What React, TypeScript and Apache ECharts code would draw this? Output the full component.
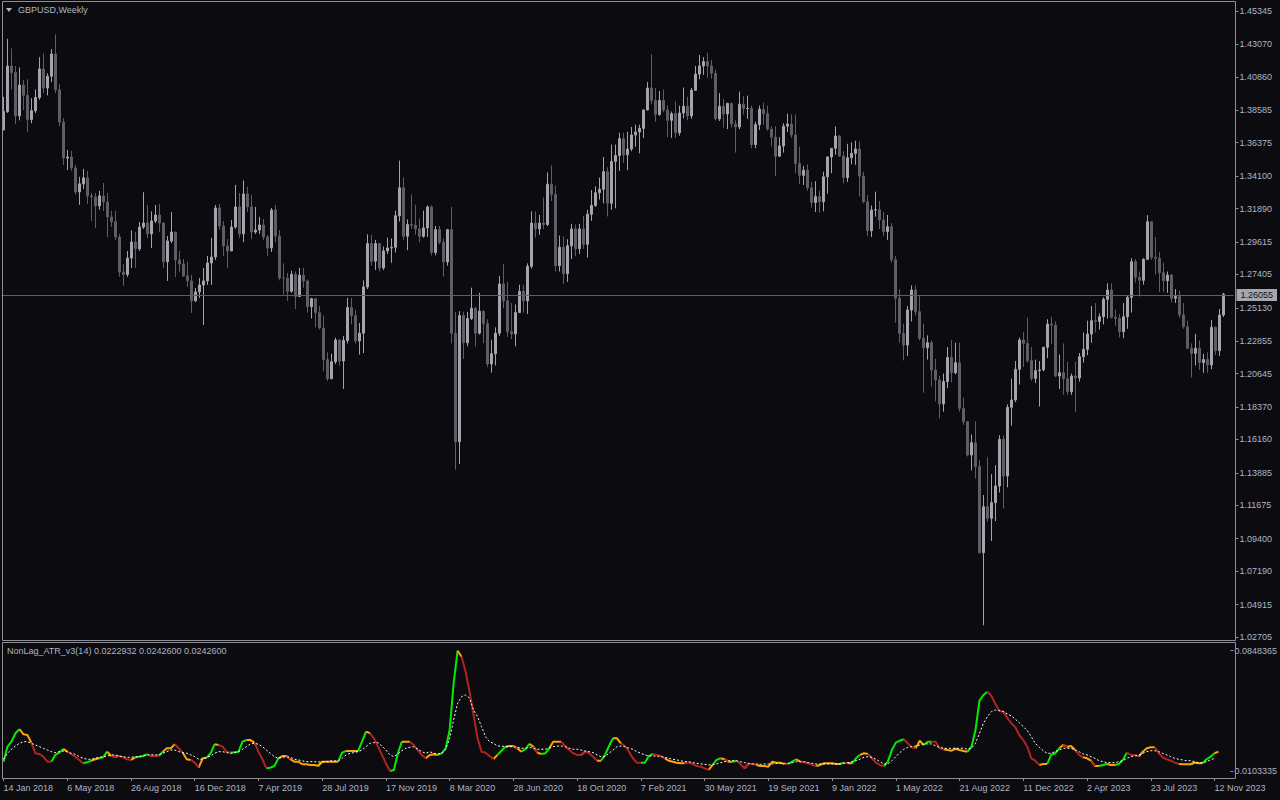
import React, { useEffect, useRef } from "react";
import * as echarts from "echarts";

const BG = "#0b0b10";
const TXT = "#aeb6c4";
const FRAME = "#8e8e94";
const FONT = "Liberation Sans";

const FIRST_OPEN = 1.3725;
const LAST_PRICE = 1.26055;

const closes = [
  1.3850,1.4160,1.4115,1.3820,1.4030,1.3960,1.3795,1.3855,1.3945,1.4140,
  1.4010,1.4090,1.4242,1.3998,1.3778,1.3533,1.3540,1.3465,1.3302,1.3357,
  1.3398,1.3275,1.3268,1.3207,1.3275,1.3234,1.3132,1.3100,1.2995,1.2757,
  1.2740,1.2852,1.2961,1.2915,1.3063,1.3090,1.3016,1.3104,1.3145,1.3090,
  1.2827,1.2968,1.3029,1.2838,1.2811,1.2730,1.2696,1.2560,1.2621,1.2668,
  1.2696,1.2818,1.2859,1.3193,1.3070,1.2934,1.2900,1.3063,1.3200,1.3016,
  1.3288,1.3200,1.3029,1.3043,1.3077,1.2995,1.2920,1.3179,1.3002,1.2716,
  1.2715,1.2625,1.2740,1.2590,1.2735,1.2695,1.2520,1.2575,1.2480,1.2375,
  1.2160,1.2030,1.2145,1.2293,1.2150,1.2290,1.2515,1.2460,1.2287,1.2340,
  1.2655,1.2950,1.2830,1.2950,1.2784,1.2900,1.2920,1.2925,1.3140,1.3330,
  1.3000,1.3080,1.3075,1.3050,1.3000,1.3057,1.3200,1.2890,1.3045,1.2960,
  1.2825,1.3045,1.2340,1.1600,1.2460,1.2275,1.2440,1.2510,1.2340,1.2490,
  1.2405,1.2130,1.2200,1.2340,1.2675,1.2560,1.2350,1.2335,1.2480,1.2625,
  1.2560,1.2795,1.3090,1.3050,1.3090,1.3080,1.3355,1.3285,1.2800,1.2925,
  1.2745,1.2935,1.3050,1.2915,1.3050,1.2945,1.3150,1.3210,1.3297,1.3320,
  1.3440,1.3225,1.3510,1.3550,1.3665,1.3555,1.3595,1.3690,1.3710,1.3735,
  1.3860,1.4010,1.3925,1.3830,1.3925,1.3860,1.3790,1.3835,1.3705,1.3840,
  1.3885,1.3820,1.3995,1.4105,1.4160,1.4190,1.4160,1.4110,1.3800,1.3885,
  1.3833,1.3905,1.3765,1.3745,1.3900,1.3870,1.3870,1.3625,1.3760,1.3865,
  1.3835,1.3730,1.3675,1.3545,1.3615,1.3750,1.3765,1.3690,1.3495,1.3415,
  1.3450,1.3330,1.3230,1.3270,1.3235,1.3405,1.3540,1.3599,1.3683,1.3547,
  1.3400,1.3535,1.3565,1.3595,1.3410,1.3235,1.3038,1.3179,1.3180,1.3111,
  1.3031,1.3065,1.2840,1.2578,1.2339,1.2259,1.2498,1.2634,1.2486,1.2305,
  1.2240,1.2275,1.2089,1.2021,1.1858,1.2010,1.2175,1.2071,1.2139,1.1828,
  1.1737,1.1510,1.1594,1.1431,1.0845,1.1158,1.1079,1.1185,1.1299,1.1617,
  1.1367,1.1835,1.1885,1.2094,1.2294,1.2270,1.2153,1.2032,1.2085,1.2090,
  1.2244,1.2402,1.2395,1.2048,1.2070,1.2030,1.1942,1.2048,1.2035,1.2180,
  1.2230,1.2334,1.2425,1.2420,1.2452,1.2571,1.2634,1.2448,1.2440,1.2350,
  1.2452,1.2584,1.2827,1.2721,1.2700,1.2843,1.3099,1.2857,1.2850,1.2752,
  1.2697,1.2736,1.2578,1.2590,1.2465,1.2384,1.2237,1.2203,1.2237,1.2139,
  1.2160,1.2123,1.2380,1.2221,1.2464,1.26055,
];

const highs = [
  1.3950,1.4345,1.4280,1.4160,1.4150,1.4065,1.4070,1.3940,1.4000,1.4220,
  1.4245,1.4110,1.4275,1.4376,1.4037,1.3805,1.3588,1.3582,1.3486,1.3405,
  1.3459,1.3446,1.3295,1.3295,1.3309,1.3363,1.3295,1.3173,1.3173,1.3016,
  1.2811,1.2900,1.3040,1.3030,1.3097,1.3300,1.3213,1.3170,1.3213,1.3220,
  1.3097,1.3002,1.3166,1.3030,1.2900,1.2845,1.2825,1.2736,1.2648,1.2716,
  1.2784,1.2866,1.2990,1.3213,1.3220,1.3104,1.2981,1.3111,1.3350,1.3295,
  1.3380,1.3336,1.3282,1.3200,1.3132,1.3118,1.3009,1.3193,1.3213,1.3043,
  1.2815,1.2750,1.2765,1.2760,1.2785,1.2785,1.2705,1.2580,1.2580,1.2525,
  1.2460,1.2210,1.2200,1.2310,1.2300,1.2320,1.2580,1.2580,1.2500,1.2410,
  1.2700,1.3013,1.3010,1.2975,1.2955,1.2930,1.2990,1.2985,1.3175,1.3515,
  1.3400,1.3115,1.3285,1.3215,1.3120,1.3175,1.3210,1.3210,1.3070,1.3070,
  1.2985,1.3050,1.3200,1.2485,1.2490,1.2485,1.2485,1.2650,1.2520,1.2615,
  1.2495,1.2435,1.2295,1.2380,1.2730,1.2810,1.2690,1.2545,1.2535,1.2670,
  1.2670,1.2815,1.3170,1.3170,1.3145,1.3265,1.3435,1.3482,1.3345,1.3005,
  1.3000,1.2980,1.3085,1.3080,1.3085,1.3140,1.3180,1.3315,1.3340,1.3400,
  1.3540,1.3470,1.3625,1.3625,1.3705,1.3705,1.3712,1.3745,1.3760,1.3760,
  1.3865,1.4050,1.4240,1.4010,1.3990,1.4000,1.3890,1.3850,1.3920,1.3890,
  1.4013,1.3950,1.4010,1.4160,1.4235,1.4220,1.4250,1.4200,1.4135,1.3975,
  1.3935,1.3910,1.3910,1.3790,1.3985,1.3955,1.3958,1.3890,1.3780,1.3890,
  1.3910,1.3890,1.3750,1.3750,1.3675,1.3770,1.3835,1.3830,1.3830,1.3610,
  1.3480,1.3490,1.3370,1.3375,1.3310,1.3440,1.3545,1.3600,1.3748,1.3690,
  1.3580,1.3630,1.3640,1.3651,1.3645,1.3440,1.3280,1.3210,1.3304,1.3240,
  1.3165,1.3145,1.3090,1.2865,1.2640,1.2405,1.2525,1.2665,1.2665,1.2600,
  1.2405,1.2325,1.2290,1.2165,1.2050,1.2065,1.2245,1.2295,1.2275,1.2275,
  1.1900,1.1735,1.1650,1.1740,1.1475,1.1238,1.1495,1.1380,1.1440,1.1645,
  1.1645,1.1855,1.2030,1.2150,1.2310,1.2350,1.2445,1.2245,1.2160,1.2150,
  1.2245,1.2435,1.2452,1.2420,1.2195,1.2270,1.2145,1.2065,1.2145,1.2205,
  1.2345,1.2425,1.2525,1.2545,1.2475,1.2585,1.2680,1.2680,1.2500,1.2470,
  1.2545,1.2600,1.2850,1.2845,1.2760,1.2850,1.3144,1.3100,1.2995,1.2895,
  1.2820,1.2760,1.2745,1.2640,1.2630,1.2545,1.2425,1.2270,1.2335,1.2290,
  1.2200,1.2210,1.2430,1.2385,1.2505,1.2615,
];

const lows = [
  1.3720,1.3840,1.4000,1.3765,1.3790,1.3860,1.3712,1.3770,1.3840,1.3930,
  1.3975,1.3960,1.4050,1.3975,1.3750,1.3486,1.3451,1.3445,1.3284,1.3214,
  1.3323,1.3221,1.3104,1.3057,1.3180,1.3172,1.2995,1.3064,1.2974,1.2725,
  1.2662,1.2723,1.2784,1.2784,1.2900,1.3049,1.2988,1.2920,1.3090,1.3030,
  1.2784,1.2696,1.2954,1.2723,1.2757,1.2723,1.2655,1.2478,1.2553,1.2580,
  1.2396,1.2669,1.2669,1.2838,1.3043,1.2866,1.2784,1.2900,1.3050,1.2988,
  1.2960,1.3166,1.2981,1.3016,1.3016,1.2975,1.2866,1.2893,1.2960,1.2700,
  1.2605,1.2560,1.2615,1.2505,1.2585,1.2650,1.2480,1.2440,1.2380,1.2365,
  1.2080,1.2015,1.2025,1.2130,1.2120,1.1960,1.2270,1.2400,1.2270,1.2195,
  1.2205,1.2640,1.2800,1.2770,1.2760,1.2770,1.2880,1.2820,1.2890,1.3100,
  1.2975,1.2905,1.3050,1.3010,1.2960,1.2990,1.2995,1.2870,1.2870,1.2945,
  1.2725,1.2800,1.2270,1.1410,1.1450,1.2165,1.2250,1.2430,1.2250,1.2330,
  1.2272,1.2110,1.2071,1.2120,1.2320,1.2510,1.2316,1.2300,1.2250,1.2480,
  1.2480,1.2470,1.2780,1.2990,1.3010,1.3050,1.3070,1.3240,1.2760,1.2760,
  1.2675,1.2690,1.2845,1.2865,1.2880,1.2915,1.2855,1.3105,1.3200,1.3250,
  1.3225,1.3135,1.3180,1.3190,1.3445,1.3500,1.3451,1.3580,1.3610,1.3565,
  1.3670,1.3860,1.3900,1.3780,1.3820,1.3845,1.3675,1.3670,1.3670,1.3685,
  1.3804,1.3790,1.3800,1.3990,1.4070,1.4100,1.4080,1.4075,1.3790,1.3785,
  1.3740,1.3730,1.3740,1.3570,1.3730,1.3830,1.3800,1.3600,1.3600,1.3725,
  1.3760,1.3720,1.3610,1.3410,1.3545,1.3570,1.3710,1.3670,1.3430,1.3355,
  1.3350,1.3310,1.3195,1.3165,1.3160,1.3170,1.3290,1.3430,1.3555,1.3540,
  1.3360,1.3370,1.3490,1.3486,1.3270,1.3225,1.3000,1.2995,1.3134,1.3050,
  1.3000,1.2975,1.2820,1.2410,1.2275,1.2155,1.2185,1.2420,1.2460,1.2290,
  1.1934,1.2160,1.1975,1.1875,1.1760,1.1805,1.1965,1.2005,1.2060,1.1805,
  1.1715,1.1500,1.1405,1.1350,1.0840,1.0350,1.1055,1.0925,1.1060,1.1255,
  1.1145,1.1290,1.1710,1.1870,1.1990,1.2110,1.2140,1.2015,1.2000,1.1840,
  1.2080,1.2170,1.2265,1.2040,1.1960,1.1920,1.1920,1.1920,1.1802,1.2010,
  1.2140,1.2190,1.2275,1.2345,1.2365,1.2400,1.2440,1.2440,1.2390,1.2310,
  1.2305,1.2370,1.2480,1.2685,1.2590,1.2670,1.2840,1.2840,1.2740,1.2620,
  1.2620,1.2615,1.2550,1.2545,1.2445,1.2370,1.2230,1.2037,1.2120,1.2090,
  1.2070,1.2070,1.2095,1.2190,1.2185,1.2450,
];

const atr = [
  0.0161,0.0254,0.0285,0.0337,0.0362,0.0331,0.0326,0.0279,0.0213,0.0209,
  0.0192,0.0161,0.0161,0.0203,0.0217,0.0240,0.0223,0.0207,0.0192,0.0172,
  0.0151,0.0157,0.0167,0.0176,0.0182,0.0188,0.0223,0.0198,0.0192,0.0196,
  0.0188,0.0176,0.0172,0.0186,0.0192,0.0196,0.0207,0.0196,0.0196,0.0198,
  0.0223,0.0244,0.0244,0.0269,0.0244,0.0217,0.0176,0.0172,0.0155,0.0124,
  0.0182,0.0186,0.0213,0.0269,0.0264,0.0254,0.0223,0.0217,0.0219,0.0223,
  0.0285,0.0295,0.0295,0.0279,0.0223,0.0176,0.0120,0.0124,0.0134,0.0182,
  0.0196,0.0196,0.0176,0.0161,0.0161,0.0145,0.0145,0.0141,0.0141,0.0136,
  0.0161,0.0161,0.0161,0.0161,0.0161,0.0217,0.0227,0.0227,0.0227,0.0227,
  0.0285,0.0347,0.0337,0.0306,0.0254,0.0203,0.0151,0.0103,0.0110,0.0213,
  0.0285,0.0285,0.0285,0.0264,0.0233,0.0203,0.0182,0.0203,0.0207,0.0203,
  0.0213,0.0244,0.0357,0.0647,0.0848,0.0811,0.0718,0.0594,0.0450,0.0306,
  0.0223,0.0217,0.0196,0.0178,0.0203,0.0229,0.0254,0.0258,0.0258,0.0244,
  0.0223,0.0238,0.0271,0.0254,0.0217,0.0209,0.0213,0.0244,0.0285,0.0285,
  0.0285,0.0258,0.0233,0.0213,0.0203,0.0203,0.0223,0.0213,0.0192,0.0167,
  0.0167,0.0203,0.0258,0.0306,0.0306,0.0275,0.0258,0.0223,0.0182,0.0155,
  0.0155,0.0155,0.0196,0.0209,0.0203,0.0196,0.0182,0.0167,0.0161,0.0155,
  0.0151,0.0151,0.0155,0.0147,0.0134,0.0130,0.0120,0.0110,0.0141,0.0172,
  0.0182,0.0176,0.0161,0.0161,0.0167,0.0147,0.0120,0.0147,0.0147,0.0141,
  0.0134,0.0134,0.0130,0.0161,0.0155,0.0155,0.0147,0.0147,0.0161,0.0176,
  0.0161,0.0157,0.0151,0.0141,0.0134,0.0141,0.0151,0.0151,0.0151,0.0147,
  0.0147,0.0155,0.0151,0.0151,0.0182,0.0203,0.0213,0.0209,0.0182,0.0155,
  0.0141,0.0134,0.0161,0.0233,0.0279,0.0291,0.0300,0.0275,0.0250,0.0244,
  0.0291,0.0264,0.0285,0.0285,0.0285,0.0244,0.0238,0.0233,0.0229,0.0241,
  0.0233,0.0227,0.0223,0.0254,0.0357,0.0539,0.0574,0.0594,0.0568,0.0518,
  0.0475,0.0471,0.0430,0.0399,0.0374,0.0326,0.0295,0.0254,0.0182,0.0167,
  0.0141,0.0147,0.0147,0.0203,0.0213,0.0244,0.0264,0.0254,0.0258,0.0233,
  0.0203,0.0188,0.0182,0.0167,0.0134,0.0134,0.0141,0.0147,0.0141,0.0141,
  0.0147,0.0172,0.0217,0.0203,0.0203,0.0192,0.0223,0.0244,0.0250,0.0250,
  0.0213,0.0188,0.0176,0.0167,0.0155,0.0147,0.0145,0.0145,0.0145,0.0155,
  0.0151,0.0151,0.0176,0.0192,0.0213,0.0223,
];

// colour of the segment arriving at each point: g = rising, o = neutral, r = falling
const atrColors =
  "gggggooorr" + "rrrgggorrr" + "rggooggoro" + "rrrogggrrr" + "gooorroorr" +
  "ooggorrrgg" + "ggoorrrggg" + "oorooooooo" + "gooooggooo" + "ggorrrrrgg" +
  "goorrrrooo" + "gggggorrrr" + "rrrroggoor" + "oggoroggoo" + "orrrrrorrr" +
  "ogggoorrrr" + "rgggrrrooo" + "oorrrrrrog" + "gorogrrorr" + "ooooooorgg" +
  "orrrrooooo" + "ogroggoorr" + "rrgggggrrr" + "ooggrrrooo" + "ooogggggrr" +
  "rrrrrrrrrr" + "roogggoroo" + "rrooroggoo" + "gggrrroooo" + "rrrrrrooog" +
  "oogggo";

const signal = [
  0.0176,0.0213,0.0238,0.0258,0.0275,0.0285,0.0285,0.0275,0.0264,0.0254,
  0.0244,0.0233,0.0223,0.0217,0.0223,0.0227,0.0223,0.0213,0.0207,0.0192,
  0.0182,0.0176,0.0176,0.0182,0.0188,0.0192,0.0196,0.0203,0.0203,0.0196,
  0.0192,0.0188,0.0188,0.0192,0.0192,0.0196,0.0203,0.0203,0.0203,0.0203,
  0.0213,0.0223,0.0233,0.0233,0.0223,0.0217,0.0213,0.0203,0.0192,0.0176,
  0.0176,0.0188,0.0196,0.0213,0.0223,0.0223,0.0217,0.0213,0.0217,0.0223,
  0.0238,0.0254,0.0271,0.0275,0.0269,0.0254,0.0233,0.0213,0.0192,0.0182,
  0.0188,0.0192,0.0188,0.0176,0.0172,0.0166,0.0161,0.0161,0.0161,0.0159,
  0.0161,0.0161,0.0166,0.0166,0.0166,0.0182,0.0203,0.0213,0.0217,0.0223,
  0.0233,0.0254,0.0275,0.0279,0.0279,0.0258,0.0233,0.0203,0.0192,0.0209,
  0.0229,0.0244,0.0250,0.0254,0.0238,0.0223,0.0213,0.0223,0.0213,0.0209,
  0.0213,0.0238,0.0306,0.0419,0.0523,0.0564,0.0574,0.0554,0.0481,0.0440,
  0.0378,0.0316,0.0285,0.0275,0.0258,0.0258,0.0254,0.0254,0.0254,0.0250,
  0.0244,0.0244,0.0250,0.0244,0.0238,0.0238,0.0238,0.0244,0.0254,0.0258,
  0.0258,0.0254,0.0244,0.0238,0.0238,0.0233,0.0227,0.0223,0.0217,0.0203,
  0.0192,0.0192,0.0213,0.0233,0.0254,0.0258,0.0254,0.0244,0.0238,0.0223,
  0.0213,0.0203,0.0196,0.0196,0.0196,0.0192,0.0188,0.0182,0.0176,0.0172,
  0.0167,0.0161,0.0161,0.0155,0.0151,0.0147,0.0145,0.0141,0.0141,0.0147,
  0.0155,0.0161,0.0167,0.0167,0.0167,0.0161,0.0155,0.0151,0.0147,0.0147,
  0.0145,0.0147,0.0147,0.0147,0.0151,0.0151,0.0151,0.0151,0.0155,0.0161,
  0.0161,0.0161,0.0155,0.0151,0.0147,0.0147,0.0147,0.0147,0.0147,0.0147,
  0.0147,0.0151,0.0155,0.0161,0.0167,0.0176,0.0188,0.0192,0.0188,0.0176,
  0.0161,0.0147,0.0147,0.0167,0.0192,0.0217,0.0238,0.0250,0.0254,0.0258,
  0.0264,0.0271,0.0271,0.0271,0.0258,0.0250,0.0244,0.0244,0.0244,0.0244,
  0.0244,0.0244,0.0238,0.0244,0.0275,0.0337,0.0399,0.0440,0.0471,0.0481,
  0.0477,0.0471,0.0456,0.0444,0.0424,0.0402,0.0378,0.0353,0.0316,0.0275,
  0.0250,0.0229,0.0213,0.0213,0.0223,0.0233,0.0244,0.0244,0.0244,0.0233,
  0.0223,0.0209,0.0203,0.0192,0.0182,0.0167,0.0161,0.0155,0.0155,0.0155,
  0.0161,0.0167,0.0182,0.0192,0.0196,0.0203,0.0213,0.0223,0.0229,0.0229,
  0.0223,0.0213,0.0203,0.0192,0.0182,0.0176,0.0172,0.0167,0.0167,0.0161,
  0.0155,0.0155,0.0161,0.0172,0.0182,null,
];

const priceTicks = [
  1.45345, 1.4307, 1.4086, 1.38585, 1.36375, 1.341, 1.3189, 1.29615, 1.27405, 1.2513,
  1.22855, 1.20645, 1.1837, 1.1616, 1.13885, 1.11675, 1.094, 1.0719, 1.04915, 1.02705,
];
const atrTicks = [0.0103335, 0.0848365];

const dateTicks = [
  "14 Jan 2018", "6 May 2018", "26 Aug 2018", "16 Dec 2018", "7 Apr 2019",
  "28 Jul 2019", "17 Nov 2019", "8 Mar 2020", "28 Jun 2020", "18 Oct 2020",
  "7 Feb 2021", "30 May 2021", "19 Sep 2021", "9 Jan 2022", "1 May 2022",
  "21 Aug 2022", "11 Dec 2022", "2 Apr 2023", "23 Jul 2023", "12 Nov 2023",
];

const MONTHS = ["Jan","Feb","Mar","Apr","May","Jun","Jul","Aug","Sep","Oct","Nov","Dec"];
const FIRST_WEEK = Date.UTC(2018, 0, 14);
const EXTRA_WEEKS = 2;

export default function App() {
  const ref = useRef<HTMLDivElement>(null);

  useEffect(() => {
    document.body.style.margin = "0";
    document.body.style.background = BG;
    const chart = echarts.init(ref.current!, null, { renderer: "svg" });

    const weeks = Array.from({ length: closes.length + EXTRA_WEEKS }, (_, i) => {
      const d = new Date(FIRST_WEEK + i * 7 * 86400000);
      return `${d.getUTCDate()} ${MONTHS[d.getUTCMonth()]} ${d.getUTCFullYear()}`;
    });
    const tickSet = new Set(dateTicks);
    const showTick = (_i: number, v: string) => tickSet.has(v);

    const candles = closes.map((c, i) => {
      const o = i === 0 ? FIRST_OPEN : closes[i - 1];
      return [o, c, lows[i], highs[i]];
    });

    const segSeries = (code: string, color: string) => ({
      type: "line",
      xAxisIndex: 1,
      yAxisIndex: 1,
      data: atr.map((v, i) => (atrColors[i] === code || atrColors[i + 1] === code ? v : null)),
      showSymbol: false,
      symbol: "none",
      connectNulls: false,
      lineStyle: { color, width: 2 },
      silent: true,
      z: 3,
    });

    const labelStyle = { color: TXT, fontSize: 9, fontFamily: FONT };

    const option: any = {
      animation: false,
      backgroundColor: BG,
      grid: [
        { left: 1.5, top: 2, width: 1232, height: 638 },
        { left: 1.5, top: 642, width: 1232, height: 136 },
      ],
      xAxis: [
        {
          type: "category",
          gridIndex: 0,
          data: weeks,
          axisLine: { show: false },
          axisTick: { show: false },
          axisLabel: { show: false },
          splitLine: { show: false },
        },
        {
          type: "category",
          gridIndex: 1,
          data: weeks,
          axisLine: { show: false },
          axisTick: {
            show: true,
            alignWithLabel: true,
            interval: showTick,
            length: 3,
            lineStyle: { color: FRAME },
          },
          axisLabel: {
            ...labelStyle,
            interval: showTick,
            align: "left",
            margin: 5,
          },
          splitLine: { show: false },
        },
      ],
      yAxis: [
        {
          type: "value",
          gridIndex: 0,
          position: "right",
          offset: 2,
          min: 1.025,
          max: 1.45958,
          axisLine: { show: false },
          axisTick: { show: true, length: 3, customValues: priceTicks, lineStyle: { color: FRAME } },
          axisLabel: {
            ...labelStyle,
            customValues: priceTicks,
            margin: 4,
            formatter: (v: number) => v.toFixed(5),
          },
          splitLine: { show: false },
        },
        {
          type: "value",
          gridIndex: 1,
          position: "right",
          offset: 2,
          min: 0.006,
          max: 0.0902,
          axisLine: { show: false },
          axisTick: { show: true, length: 3, customValues: atrTicks, lineStyle: { color: FRAME } },
          axisLabel: {
            ...labelStyle,
            customValues: atrTicks,
            margin: 4,
            formatter: (v: number) => v.toFixed(7),
          },
          splitLine: { show: false },
        },
      ],
      series: [
        {
          type: "candlestick",
          xAxisIndex: 0,
          yAxisIndex: 0,
          data: candles,
          barWidth: 2,
          itemStyle: {
            color: "#a4a4ae",
            color0: "#5e5e64",
            borderColor: "#a4a4ae",
            borderColor0: "#5e5e64",
            borderWidth: 1,
          },
          silent: true,
          markLine: {
            silent: true,
            symbol: ["none", "none"],
            lineStyle: { color: "#5e5e66", width: 1, type: "solid" },
            label: {
              show: true,
              position: "end",
              distance: 3,
              formatter: LAST_PRICE.toFixed(5),
              color: "#12121a",
              backgroundColor: "#a6a6ae",
              padding: [2, 4, 1, 4],
              fontSize: 9,
              fontFamily: FONT,
            },
            data: [{ yAxis: LAST_PRICE }],
          },
        },
        {
          type: "line",
          xAxisIndex: 1,
          yAxisIndex: 1,
          data: signal,
          showSymbol: false,
          symbol: "none",
          lineStyle: { color: "#ffffff", width: 1, type: [2, 2] },
          silent: true,
          z: 4,
        },
        segSeries("g", "#00ee00"),
        segSeries("o", "#ffa500"),
        segSeries("r", "#b22222"),
      ],
      graphic: [
        {
          type: "rect",
          shape: { x: 2.5, y: 1.5, width: 1233, height: 639 },
          style: { fill: "transparent", stroke: FRAME, lineWidth: 1 },
          silent: true,
          z: 10,
        },
        {
          type: "rect",
          shape: { x: 2.5, y: 642.5, width: 1233, height: 136 },
          style: { fill: "transparent", stroke: FRAME, lineWidth: 1 },
          silent: true,
          z: 10,
        },
        {
          type: "polygon",
          shape: { points: [[6, 8], [12, 8], [9, 12]] },
          style: { fill: TXT },
          silent: true,
          z: 10,
        },
        {
          type: "text",
          x: 18,
          y: 10,
          style: {
            text: "GBPUSD,Weekly",
            fill: TXT,
            fontSize: 9,
            fontFamily: FONT,
            verticalAlign: "middle",
          },
          silent: true,
          z: 10,
        },
        {
          type: "text",
          x: 7,
          y: 651,
          style: {
            text: "NonLag_ATR_v3(14) 0.0222932 0.0242600 0.0242600",
            fill: TXT,
            fontSize: 9,
            fontFamily: FONT,
            verticalAlign: "middle",
          },
          silent: true,
          z: 10,
        },
      ],
    };

    chart.setOption(option);
    return () => chart.dispose();
  }, []);

  return <div ref={ref} style={{ width: 1280, height: 800 }} />;
}
